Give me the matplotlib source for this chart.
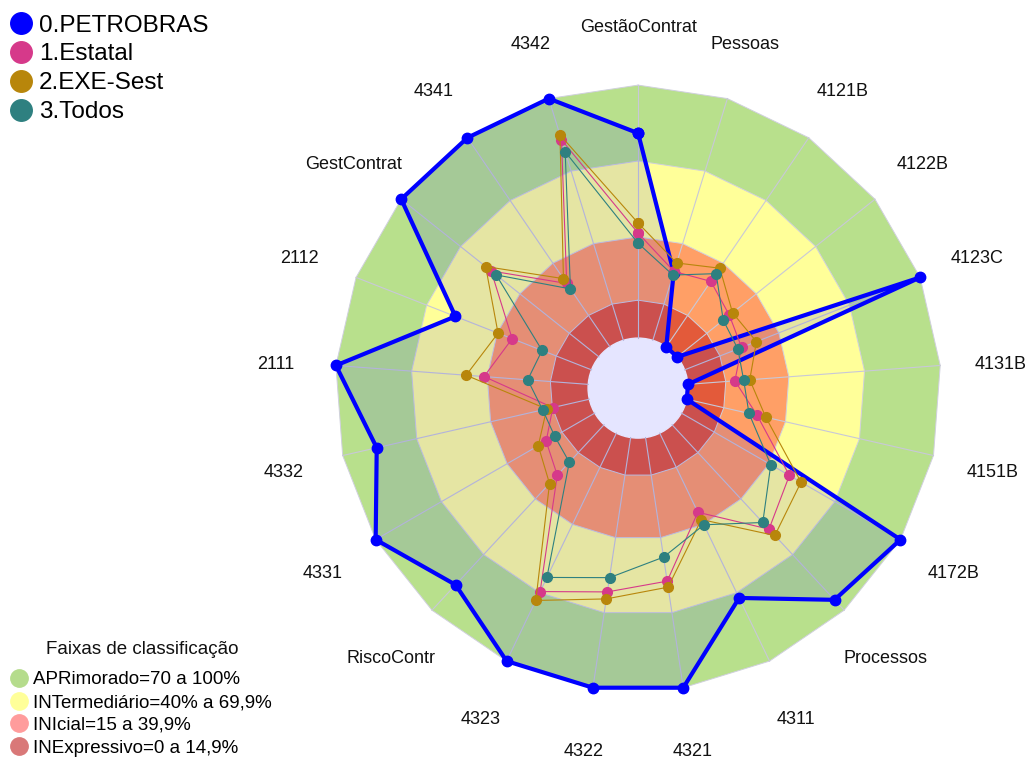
import numpy as np
import matplotlib.pyplot as plt
from matplotlib.lines import Line2D

plt.rcParams['font.family'] = ['Liberation Sans', 'DejaVu Sans']

eixos = ['GestãoContrat', 'Pessoas', '4121B', '4122B', '4123C', '4131B', '4151B',
         '4172B', 'Processos', '4311', '4321', '4322', '4323', 'RiscoContr',
         '4331', '4332', '2111', '2112', 'GestContrat', '4341', '4342']

petrobras = [81, 28, 0, 0, 100, 0, 0, 100, 94.4, 72.3, 100, 100, 100, 86.3,
             100, 86.2, 100, 57.8, 100, 100, 100]
estatal = [41.5, 28.5, 31.3, 26.4, 24.2, 18.6, 28.5, 49.3, 56.3, 34.7, 57.4,
           61.7, 69.5, 27.2, 22.2, 14.8, 41.3, 33.7, 54.5, 30.3, 83]
exe_sest = [45.5, 32, 37.6, 28, 30.5, 24.5, 32, 54.6, 59.7, 37.9, 59.8, 64.5,
            73.4, 31.7, 25.8, 17.3, 48.4, 39.7, 57.3, 32.6, 85]
todos = [37.5, 27, 35, 23.3, 22.6, 22.1, 25.2, 40.8, 52.7, 40.2, 47.8, 56,
         63.3, 20.2, 18.3, 18.9, 24, 21, 52, 27.7, 78]

series = ['0.PETROBRAS', '1.Estatal', '2.EXE-Sest', '3.Todos']
cores = ['#0000ff', '#d6398a', '#b8860b', '#2e8080']

faixas_lim = [100, 70, 40, 15]
faixas_cor = ['#b8e08c', '#ffff99', '#ff9f66', '#e35a3a']
faixas_nome = ['APRimorado=70 a 100%', 'INTermediário=40% a 69,9%',
               'INIcial=15 a 39,9%', 'INExpressivo=0 a 14,9%']
faixas_leg = ['#b5dc8c', '#ffff99', '#ff9c9c', '#d97878']

OFF = 19.76  # raio do buraco central, em unidades do eixo
n = len(eixos)
ang = np.arange(n) * 2 * np.pi / n


def xy(vals, fechar=True):
    r = OFF + np.asarray(vals, dtype=float)
    x, y = r * np.sin(ang), r * np.cos(ang)
    if fechar:
        x, y = np.append(x, x[0]), np.append(y, y[0])
    return x, y


fig = plt.figure(figsize=(10.31, 7.58), dpi=100)
ax = fig.add_axes([0, 0, 1, 1])
ax.set_xlim(-252.2, 155.3)
ax.set_ylim(-146.2, 153.4)
ax.set_aspect('equal')
ax.axis('off')

# faixas de classificacao
for lim, cor in zip(faixas_lim, faixas_cor):
    x, y = xy([lim] * n)
    ax.fill(x, y, color=cor, lw=0, zorder=1)
    ax.plot(x, y, color='#d0d0de', lw=0.7, zorder=2)
ax.add_patch(plt.Circle((0, 0), OFF, color='white', zorder=2))

# linhas radiais
x0, y0 = xy([0] * n, fechar=False)
x1, y1 = xy([100] * n, fechar=False)
for i in range(n):
    ax.plot([x0[i], x1[i]], [y0[i], y1[i]], color='#c8c8d8', lw=0.8, zorder=2)

# rotulos
xl, yl = xy([124] * n, fechar=False)
for i, nome in enumerate(eixos):
    ax.text(xl[i], yl[i] - 1.4, nome, ha='center', va='center', fontsize=13,
            color='#111111')

# series
x, y = xy(petrobras)
ax.fill(x, y, color='#0000ff', alpha=0.1, lw=0, zorder=3)
ax.plot(x, y, color=cores[0], lw=3, marker='o', ms=7.5, zorder=4)
for vals, cor in zip([estatal, exe_sest, todos], cores[1:]):
    x, y = xy(vals)
    ax.plot(x, y, color=cor, lw=0.8, marker='o', ms=7, zorder=5)

h1 = [Line2D([], [], ls='', marker='o', ms=15.5, color=c) for c in cores]
leg1 = ax.legend(h1, series, loc='upper left', bbox_to_anchor=(-0.006, 1.0),
                 fontsize=17.5, frameon=False, handletextpad=0.25,
                 labelspacing=0.28, handlelength=1.0, borderaxespad=0.2)
ax.add_artist(leg1)

h2 = [Line2D([], [], ls='', marker='o', ms=12.5, color=c) for c in faixas_leg]
leg2 = ax.legend(h2, faixas_nome, loc='lower left', bbox_to_anchor=(-0.003, -0.013),
                 fontsize=13.5, frameon=False, handletextpad=0.15,
                 labelspacing=0.3, handlelength=1.2, borderaxespad=0.2)
fig.text(142 / 1031, 1 - 650 / 758, 'Faixas de classificação', ha='center',
         va='center', fontsize=13.5, color='#111111')

fig.savefig('out.png', dpi=100)
